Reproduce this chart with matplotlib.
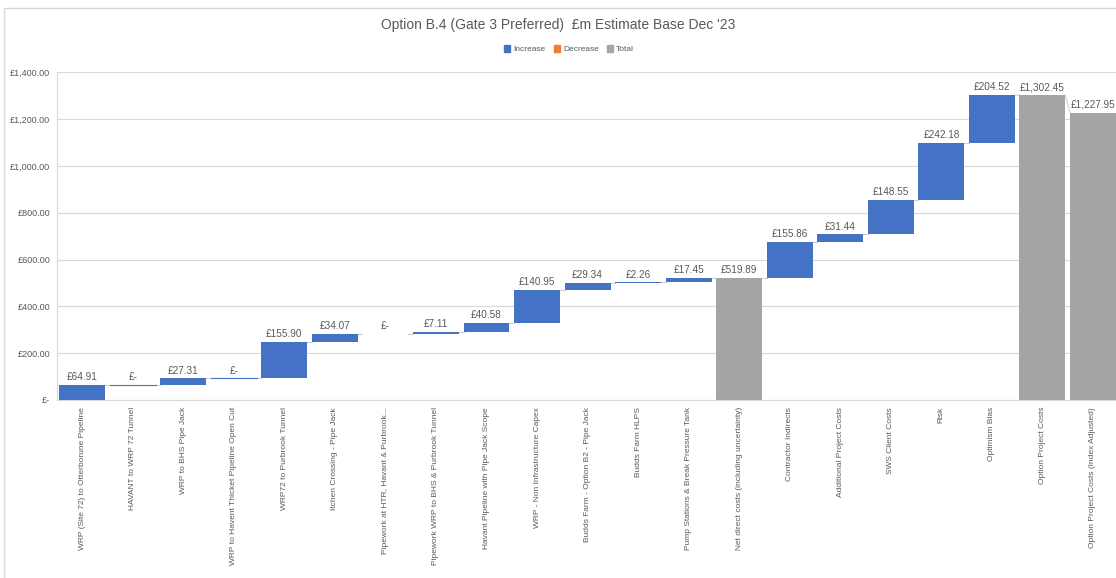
import numpy as np
import matplotlib.pyplot as plt
from matplotlib.patches import Patch, Rectangle
from matplotlib.ticker import FuncFormatter

plt.rcParams['font.family'] = ['Liberation Sans', 'DejaVu Sans']

categories = [
    "WRP (Site 72) to Otterborune Pipeline",
    "HAVANT to WRP 72 Tunnel",
    "WRP to BHS Pipe Jack",
    "WRP to Havent Thicket Pipeline Open Cut",
    "WRP72 to Purbrook Tunnel",
    "Itchen Crossing - Pipe Jack",
    "Pipework at HTR, Havant & Purbrook...",
    "Pipework WRP to BHS & Purbrook Tunnel",
    "Havant Pipeline with Pipe Jack Scope",
    "WRP - Non Infrastructure Capex",
    "Budds Farm - Option B2 - Pipe Jack",
    "Budds Farm HLPS",
    "Pump Stations & Break Pressure Tank",
    "Net direct costs (including uncertainty)",
    "Contractor Indirects",
    "Additional Project Costs",
    "SWS Client Costs",
    "Risk",
    "Optimism Bias",
    "Option Project Costs",
    "Option Project Costs (Index Adjusted)",
]
values = [64.91, 0, 27.31, 0, 155.90, 34.07, 0, 7.11, 40.58, 140.95, 29.34,
          2.26, 17.45, 519.89, 155.86, 31.44, 148.55, 242.18, 204.52,
          1302.45, 1227.95]
is_total = [False] * 13 + [True] + [False] * 5 + [True, True]

blue = '#4472C4'
orange = '#ED7D31'
grey = '#A5A5A5'
txt = '#595959'

fig = plt.figure(figsize=(11.16, 5.78), dpi=100)
ax = fig.add_axes([0.051, 0.308, 0.951, 0.567])

x = np.arange(len(values))
bottoms, tops = [], []
level = 0.0
for v, t in zip(values, is_total):
    if t:
        bottoms.append(0.0)
        level = v
    else:
        bottoms.append(level)
        level += v
    tops.append(level)

w = 0.91
colors = [grey if t else blue for t in is_total]
heights = [max(tp - b, 0) for b, tp in zip(bottoms, tops)]
ax.bar(x, heights, bottom=bottoms, width=w, color=colors, zorder=3)

# zero-value bars show up as thin lines
for i, v in enumerate(values):
    if v == 0 and i != 6:
        ax.plot([i - w / 2, i + w / 2], [tops[i], tops[i]], color=blue, lw=0.8, zorder=3)

# connector lines between bars
for i in range(len(values) - 1):
    y2 = tops[i + 1] if is_total[i + 1] else tops[i]
    ax.plot([i + w / 2, i + 1 - w / 2], [tops[i], y2], color='#D0D0D0', lw=0.8, zorder=2)

def money(v, pos=None):
    if v == 0:
        return "£-"
    return "£{:,.2f}".format(v)

for i, v in enumerate(values):
    ax.text(i, tops[i] + 12, money(v), ha='center', va='bottom', fontsize=7.2, color=txt)

ax.set_xlim(-0.5, len(values) - 0.5)
ax.set_ylim(0, 1400)
ax.set_yticks(np.arange(0, 1401, 200))
ax.yaxis.set_major_formatter(FuncFormatter(money))
ax.grid(axis='y', color='#D9D9D9', lw=0.8, zorder=0)
ax.set_xticks(x)
ax.set_xticklabels(categories, rotation=90, va='top', ha='center', fontsize=6, color=txt)
ax.tick_params(axis='y', length=0, labelsize=6.5, labelcolor=txt, pad=5)
ax.tick_params(axis='x', length=0, labelcolor=txt, pad=5)
for s in ['top', 'right']:
    ax.spines[s].set_visible(False)
ax.spines['left'].set_color('#D9D9D9')
ax.spines['bottom'].set_color('#D9D9D9')

fig.text(0.5, 0.957, "Option B.4 (Gate 3 Preferred)  £m Estimate Base Dec '23",
         ha='center', va='center', fontsize=10, color=txt)
handles = [Patch(color=blue, label='Increase'), Patch(color=orange, label='Decrease'),
           Patch(color=grey, label='Total')]
fig.legend(handles=handles, loc='center', bbox_to_anchor=(0.51, 0.915), ncol=3,
           frameon=False, fontsize=6, handlelength=0.7, handleheight=1.0,
           handletextpad=0.4, columnspacing=1.0, labelcolor=txt)

fig.patches.append(Rectangle((0.004, -0.01), 1.0, 0.997, transform=fig.transFigure,
                             fill=False, edgecolor='#D9D9D9', lw=1))

fig.savefig('out.png', dpi=100)
